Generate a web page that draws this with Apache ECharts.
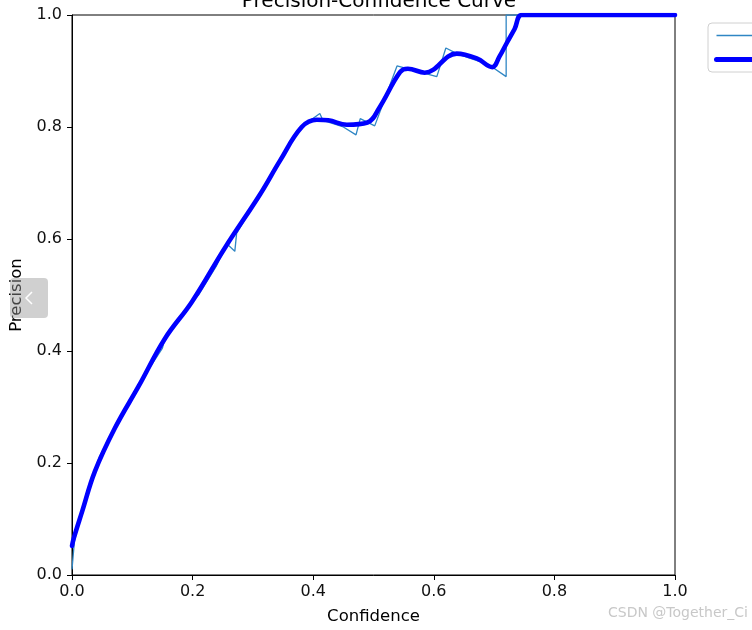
<!DOCTYPE html>
<html>
<head>
<meta charset="utf-8">
<script src="https://cdn.jsdelivr.net/npm/echarts@6/dist/echarts.min.js"></script>
<style>html,body{margin:0;padding:0;background:#fff;}#c{width:752px;height:630px;}</style>
</head>
<body>
<div id="c"></div>
<script>
// Tick labels
const xTicks = [0.0, 0.2, 0.4, 0.6, 0.8, 1.0];
const yTicks = [0.0, 0.2, 0.4, 0.6, 0.8, 1.0];
const seriesNames = ['person 1.000', 'all classes 1.00 at 0.746'];

// Thin (class) curve
const thinConf = [0, 0.004, 0.012, 0.025, 0.045, 0.07, 0.1, 0.13, 0.15, 0.153, 0.19, 0.205, 0.21, 0.24, 0.254, 0.258, 0.27, 0.273, 0.3, 0.31, 0.312, 0.345, 0.381, 0.411, 0.416, 0.45, 0.471, 0.478, 0.502, 0.52, 0.539, 0.605, 0.62, 0.64, 0.69, 0.72, 0.72, 0.8, 1.0];
const thinPrec = [0.01, 0.06, 0.1, 0.15, 0.21, 0.262, 0.318, 0.372, 0.405, 0.418, 0.476, 0.496, 0.5, 0.553, 0.585, 0.59, 0.578, 0.61, 0.658, 0.672, 0.68, 0.74, 0.801, 0.824, 0.812, 0.8, 0.786, 0.815, 0.802, 0.854, 0.909, 0.890, 0.941, 0.93, 0.912, 0.89, 1.0, 1.0, 1.0];

// Thick (all classes) curve
const thickConf = [0, 0.003, 0.017, 0.038, 0.071, 0.111, 0.154, 0.199, 0.254, 0.312, 0.345, 0.381, 0.406, 0.425, 0.456, 0.49, 0.51, 0.544, 0.557, 0.585, 0.638, 0.672, 0.697, 0.709, 0.721, 0.734, 0.746, 0.8, 1.0];
const thickPrec = [0.052, 0.066, 0.114, 0.185, 0.262, 0.338, 0.422, 0.488, 0.585, 0.68, 0.74, 0.80, 0.813, 0.812, 0.804, 0.808, 0.835, 0.898, 0.904, 0.897, 0.931, 0.922, 0.907, 0.926, 0.95, 0.975, 1.0, 1.0, 1.0];

const thinData = thinConf.map((x, i) => [x, thinPrec[i]]);
const thickData = thickConf.map((x, i) => [x, thickPrec[i]]);

const FONT = 'DejaVu Sans';
const chart = echarts.init(document.getElementById('c'), null, {renderer: 'canvas'});
chart.setOption({
  animation: false,
  backgroundColor: '#fff',
  textStyle: {fontFamily: FONT},
  title: {
    text: 'Precision-Confidence Curve',
    left: 374, top: -13, textAlign: 'center',
    textStyle: {fontFamily: FONT, fontSize: 20, fontWeight: 'normal', color: '#000'}
  },
  grid: {left: 72, right: 77, top: 15, bottom: 53, show: true, borderColor: '#000', borderWidth: 1, backgroundColor: 'transparent'},
  legend: {
    left: 708, top: 23, orient: 'vertical',
    itemWidth: 36, itemHeight: 14, itemGap: 11,
    padding: [6, 8, 6, 6],
    borderColor: '#d0d0d0', borderWidth: 1, borderRadius: 4, backgroundColor: '#fff',
    itemStyle: {opacity: 0, color: 'rgba(0,0,0,0)', borderWidth: 0},
    textStyle: {fontFamily: FONT, fontSize: 13, color: '#000'},
    data: [
      {name: seriesNames[0], lineStyle: {width: 1.6}},
      {name: seriesNames[1], lineStyle: {width: 5}}
    ]
  },
  xAxis: {
    type: 'value', min: 0, max: 1, interval: 0.2,
    name: 'Confidence', nameLocation: 'middle', nameGap: 33,
    nameTextStyle: {fontFamily: FONT, fontSize: 16.5, color: '#000'},
    axisLine: {show: true, onZero: false, lineStyle: {color: '#000', width: 1}},
    axisTick: {show: true, length: 5, lineStyle: {color: '#000'}},
    axisLabel: {fontFamily: FONT, fontSize: 16, color: '#111', margin: 9, formatter: v => (xTicks.find(t => Math.abs(t - v) < 1e-9) ?? v).toFixed(1)},
    splitLine: {show: false}
  },
  yAxis: {
    type: 'value', min: 0, max: 1, interval: 0.2,
    name: 'Precision', nameLocation: 'middle', nameGap: 40,
    nameTextStyle: {fontFamily: FONT, fontSize: 16.5, color: '#000'},
    axisLine: {show: true, onZero: false, lineStyle: {color: '#000', width: 1}},
    axisTick: {show: true, length: 5, lineStyle: {color: '#000'}},
    axisLabel: {fontFamily: FONT, fontSize: 16, color: '#111', margin: 10, formatter: v => (yTicks.find(t => Math.abs(t - v) < 1e-9) ?? v).toFixed(1)},
    splitLine: {show: false}
  },
  series: [
    {
      name: seriesNames[0], type: 'line', data: thinData, symbol: 'none', showSymbol: false,
      lineStyle: {color: '#2f86c4', width: 1.3}, itemStyle: {color: '#2f86c4'}, z: 2
    },
    {
      name: seriesNames[1], type: 'line', data: thickData, symbol: 'none', showSymbol: false,
      smooth: 0.4,
      lineStyle: {color: '#0000ff', width: 4.6, cap: 'round', join: 'round'}, itemStyle: {color: '#0000ff'}, z: 3
    }
  ],
  graphic: [
    {type: 'rect', left: 10, top: 278, shape: {width: 38, height: 40, r: 4}, style: {fill: 'rgba(150,150,150,0.45)'}, z: 100},
    {type: 'polyline', shape: {points: [[32, 292], [26, 298], [32, 304]]}, style: {stroke: '#fff', lineWidth: 1.5, fill: null}, z: 101},
    {type: 'text', left: 608, top: 606, style: {text: 'CSDN @Together_Ci', fill: '#c8c8c8', font: '14px "DejaVu Sans"'}, z: 100}
  ]
});
</script>
</body>
</html>
